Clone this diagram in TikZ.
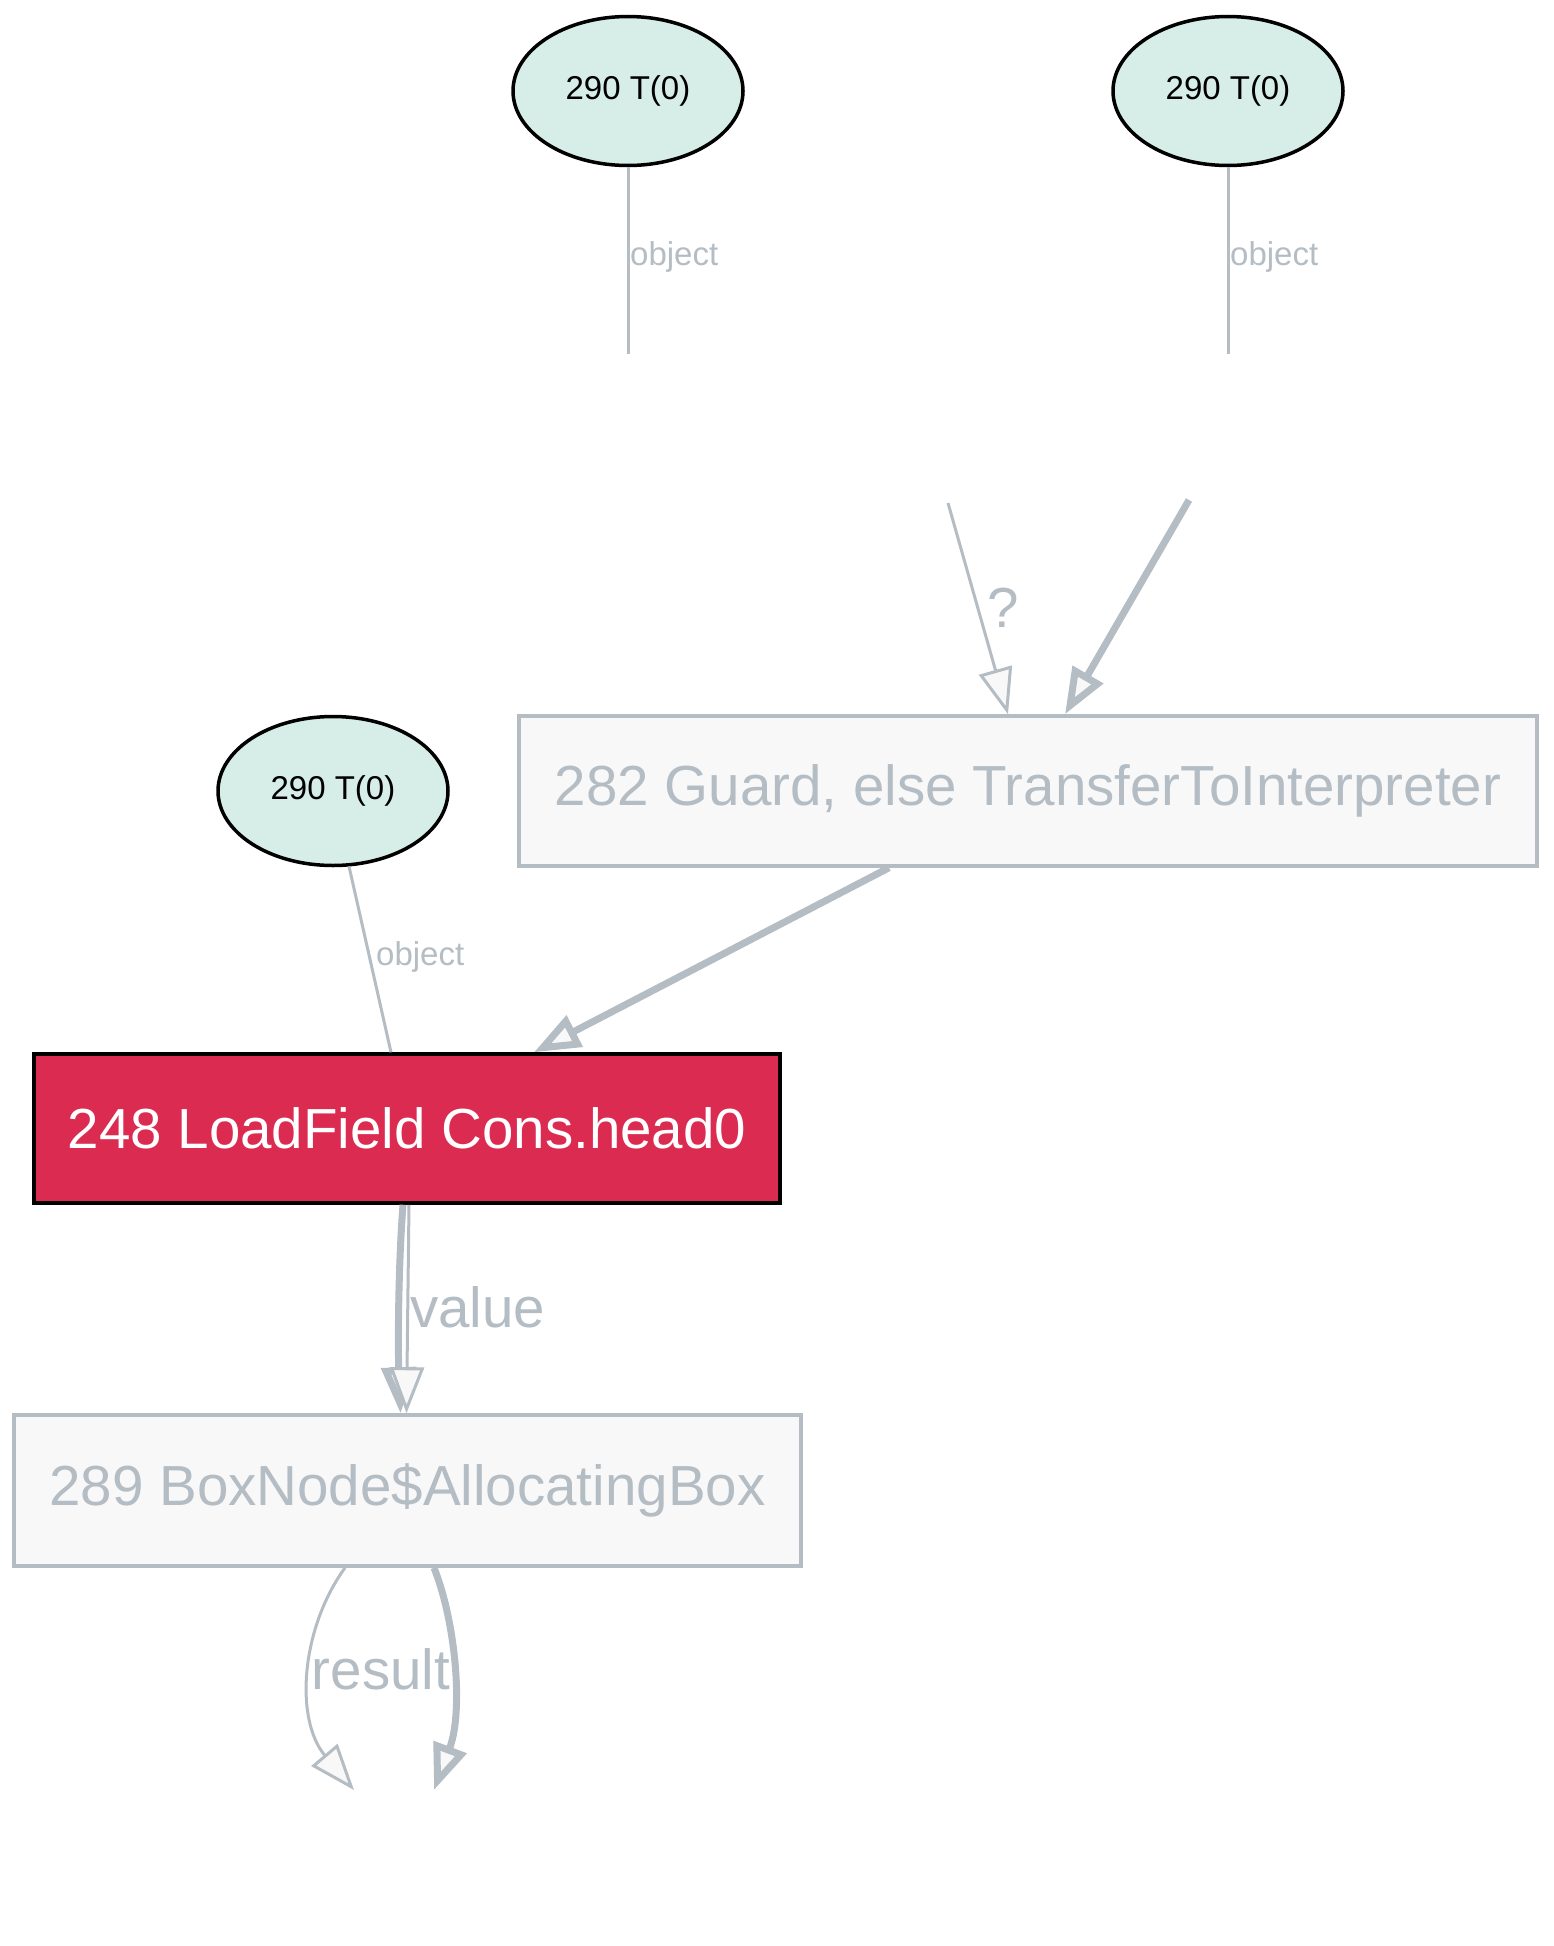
\documentclass[tikz,border=0pt]{standalone}
\usepackage{fontspec}
\setmainfont{Liberation Sans}
\usetikzlibrary{arrows.meta,shapes.geometric,calc}
\definecolor{edgegray}{HTML}{B4BCC4}
\definecolor{boxfill}{HTML}{F8F8F8}
\definecolor{ellfill}{HTML}{D6EDE8}
\definecolor{loadred}{HTML}{DB2B50}
\begin{document}
\begin{tikzpicture}[x=1pt,y=-1pt,
  constnode/.style={ellipse,draw=black,line width=3.5pt,fill=ellfill,minimum width=230pt,minimum height=149pt,inner sep=0pt,font=\fontsize{33}{36}\selectfont},
  graybox/.style={rectangle,draw=edgegray,line width=3.5pt,fill=boxfill,text=edgegray,inner sep=0pt,font=\fontsize{56.5}{60}\selectfont},
  redbox/.style={rectangle,draw=black,line width=3.5pt,fill=loadred,text=white,inner sep=0pt,font=\fontsize{56.5}{60}\selectfont},
  thinedge/.style={draw=edgegray,line width=3pt},
  thickedge/.style={draw=edgegray,line width=7pt},
  openhead/.style={-{Triangle[length=46pt,width=34pt,fill=boxfill]}},
  smalllabel/.style={text=edgegray,font=\fontsize{33}{36}\selectfont,inner sep=0pt},
  biglabel/.style={text=edgegray,font=\fontsize{56.5}{60}\selectfont,inner sep=0pt}
]
\useasboundingbox (0,0) rectangle (1554,1946);

% nodes
\node[constnode] (A) at (628,91) {290 T(0)};
\node[constnode] (B) at (1228,91) {290 T(0)};
\node[constnode] (C) at (333,791) {290 T(0)};
\node[graybox,minimum width=1018pt,minimum height=150pt] (guard) at (1028,791) {\raisebox{-5pt}{282 Guard, else TransferToInterpreter}};
\node[redbox,minimum width=746pt,minimum height=149pt] (lf) at (407,1128.5) {248 LoadField Cons.head0};
\node[graybox,minimum width=787pt,minimum height=151pt] (bn) at (407.5,1490.5) {\raisebox{-2pt}{289 BoxNode\$AllocatingBox}};

% invisible endpoints
\coordinate (aend) at (628,354);
\coordinate (bend) at (1228,354);
\coordinate (qstart) at (948,503);
\coordinate (tstart) at (1189,500);
\coordinate (rend1) at (354,1790);
\coordinate (rend2) at (434,1790);

% object edges
\draw[thinedge] (A.south) -- (aend);
\node[smalllabel,anchor=west] (objA) at (630,257) {object};
\draw[thinedge] (B.south) -- (bend);
\node[smalllabel,anchor=west] (objB) at (1230,257) {object};
\draw[thinedge] (C.-78) -- ($(lf.north)+(-16,0)$);
\node[smalllabel,anchor=west] (objC) at (376,957) {object};

% into guard
\draw[thinedge,openhead] (qstart) -- ($(guard.north)+(-20,0)$);
\node[biglabel] (qlab) at (1003,608) {?};
\draw[thickedge,openhead] (tstart) -- ($(guard.north)+(37,0)$);

% guard to loadfield
\draw[thickedge,openhead] ($(guard.south)+(-139,0)$) -- ($(lf.north)+(127,0)$);

% value edges
\draw[thickedge,openhead] ($(lf.south)+(-4,0)$) .. controls (398,1270) and (398,1350) .. ($(bn.north)+(-7,0)$);
\draw[thinedge,openhead] ($(lf.south)+(2,0)$) -- ($(bn.north)+(-1,0)$);
\node[biglabel,anchor=west] (vlab) at (410,1307) {value};

% result edges
\draw[thinedge,openhead] ($(bn.south)+(-62.5,0)$) .. controls (300,1630) and (295,1720) .. (rend1);
\draw[thickedge,openhead] ($(bn.south)+(26.5,0)$) .. controls (455,1620) and (464,1710) .. (rend2);
\node[biglabel] (rlab) at (381,1669) {result};
\end{tikzpicture}
\end{document}
